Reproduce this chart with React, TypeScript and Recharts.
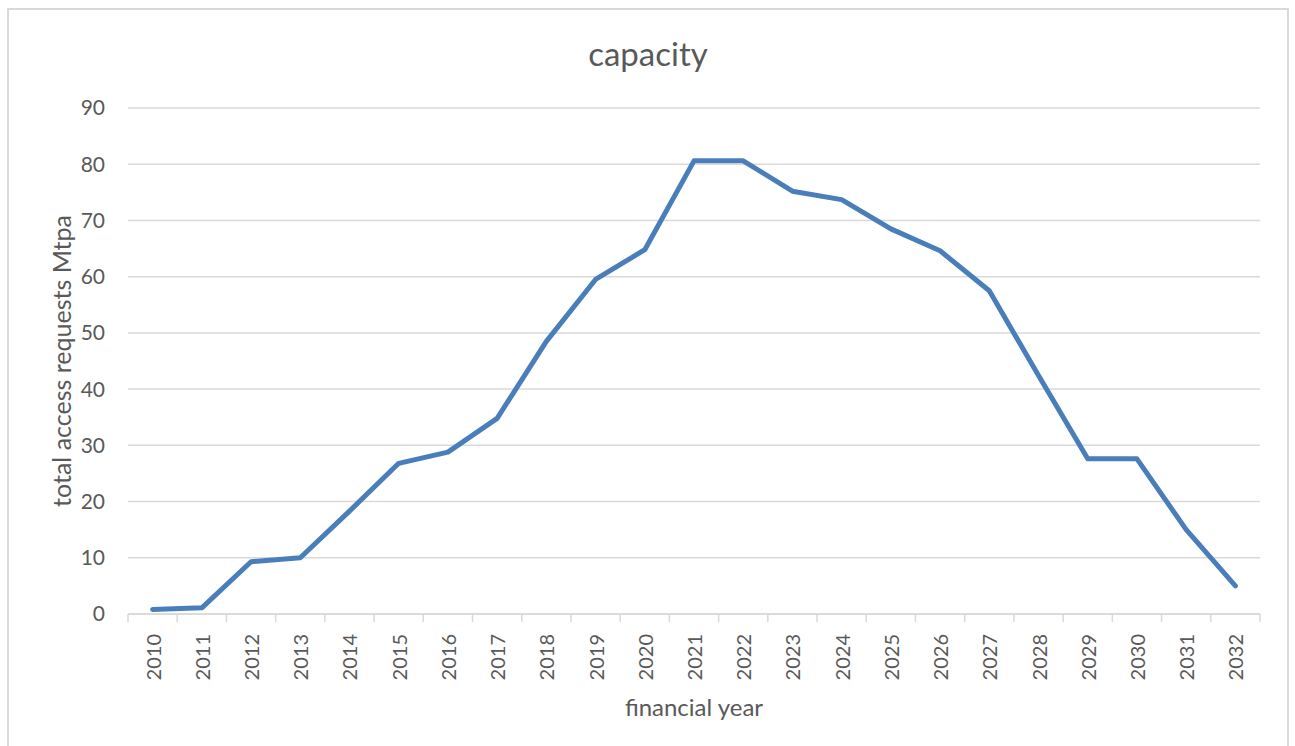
import React from 'react';
import { LineChart, Line, XAxis, YAxis, CartesianGrid, Label } from 'recharts';

const years = ['2010','2011','2012','2013','2014','2015','2016','2017','2018','2019','2020','2021','2022','2023','2024','2025','2026','2027','2028','2029','2030','2031','2032'];
const capacity = [0.8, 1.1, 9.3, 10.0, 18.3, 26.8, 28.8, 34.8, 48.5, 59.5, 64.8, 80.6, 80.6, 75.2, 73.7, 68.5, 64.6, 57.5, 42.4, 27.6, 27.6, 15.0, 5.0];
const yTicks = [0, 10, 20, 30, 40, 50, 60, 70, 80, 90];

const data = years.map((y, i) => ({ year: y, value: capacity[i] }));

const FONT = 'Lato, "Open Sans", sans-serif';
const TEXT = '#595959';
const GRID = '#d9d9d9';
const HALF_BAND = 1132 / 23 / 2;

const XTick = (props: any) => {
  const { x, y, payload, index } = props;
  const ty = y + 20;
  return (
    <g>
      <line x1={x - HALF_BAND} y1={y} x2={x - HALF_BAND} y2={y + 8} stroke={GRID} strokeWidth={1.5} />
      {index === years.length - 1 && (
        <line x1={x + HALF_BAND} y1={y} x2={x + HALF_BAND} y2={y + 8} stroke={GRID} strokeWidth={1.5} />
      )}
      <text
        x={x}
        y={ty}
        transform={`rotate(-90 ${x} ${ty})`}
        textAnchor="end"
        dominantBaseline="central"
        fill={TEXT}
        fontSize={20}
        fontFamily={FONT}
      >
        {payload.value}
      </text>
    </g>
  );
};

export default function App() {
  return (
    <div
      style={{
        position: 'absolute',
        left: 7,
        top: 8,
        width: 1282,
        height: 740,
        boxSizing: 'border-box',
        border: `2px solid ${GRID}`,
        borderBottom: 'none',
        background: '#fff',
        fontFamily: FONT,
      }}
    >
      <div
        style={{
          position: 'absolute',
          left: 0,
          right: 0,
          top: 23,
          textAlign: 'center',
          fontSize: 33,
          color: TEXT,
          lineHeight: '40px',
        }}
      >
        capacity
      </div>
      <LineChart
        width={1278}
        height={736}
        data={data}
        margin={{ top: 98, right: 27, left: 59, bottom: 22 }}
      >
        <CartesianGrid vertical={false} stroke={GRID} strokeWidth={1.5} />
        <XAxis
          dataKey="year"
          height={110}
          interval={0}
          tickSize={0}
          tickMargin={0}
          tickLine={false}
          padding={{ left: HALF_BAND, right: HALF_BAND }}
          axisLine={{ stroke: GRID, strokeWidth: 1.5 }}
          tick={<XTick />}
        >
          <Label
            value="financial year"
            position="insideBottom"
            offset={8}
            fill={TEXT}
            fontSize={24}
            fontFamily={FONT}
          />
        </XAxis>
        <YAxis
          width={60}
          domain={[0, 90]}
          ticks={yTicks}
          interval={0}
          tickSize={0}
          tickMargin={23}
          tickLine={false}
          axisLine={false}
          tick={{ fill: TEXT, fontSize: 21, fontFamily: FONT }}
        >
          <Label
            value="total access requests Mtpa"
            angle={-90}
            position="center"
            dx={-36}
            fill={TEXT}
            fontSize={25}
            fontFamily={FONT}
          />
        </YAxis>
        <Line
          type="linear"
          dataKey="value"
          stroke="#4a7ebb"
          strokeWidth={5}
          dot={false}
          strokeLinejoin="round"
          strokeLinecap="round"
          isAnimationActive={false}
        />
      </LineChart>
    </div>
  );
}
